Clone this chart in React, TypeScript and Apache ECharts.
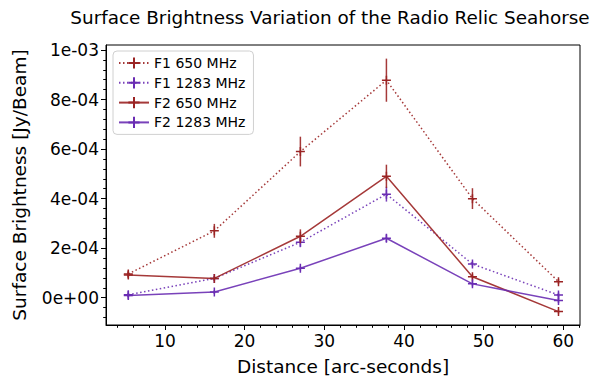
import React, { useEffect, useRef } from "react";
import * as echarts from "echarts";

const DISTANCE = [5.4, 16.2, 27.0, 37.8, 48.6, 59.4];

const F1_650 = [9.6e-5, 2.7e-4, 5.9e-4, 8.78e-4, 4.0e-4, 6.5e-5];
const F1_650_ERR = [1.0e-5, 2.8e-5, 6.0e-5, 8.7e-5, 4.2e-5, 1.0e-5];
const F1_1283 = [1.2e-5, 7.8e-5, 2.24e-4, 4.18e-4, 1.36e-4, 1.1e-5];
const F1_1283_ERR = [8e-6, 8e-6, 2e-5, 3e-5, 1e-5, 1e-5];
const F2_650 = [9.2e-5, 7.8e-5, 2.48e-4, 4.9e-4, 8.5e-5, -5.6e-5];
const F2_650_ERR = [1e-5, 1e-5, 2.8e-5, 4.7e-5, 1e-5, 8e-6];
const F2_1283 = [9e-6, 2.3e-5, 1.19e-4, 2.4e-4, 5.6e-5, -1.1e-5];
const F2_1283_ERR = [7e-6, 8e-6, 1e-5, 1.5e-5, 1e-5, 1e-5];

const X_TICKS = [10, 20, 30, 40, 50, 60];
const X_MINOR = [4, 6, 8, 12, 14, 16, 18, 22, 24, 26, 28, 32, 34, 36, 38, 42, 44, 46, 48, 52, 54, 56, 58, 62];
const Y_TICKS = [0, 2e-4, 4e-4, 6e-4, 8e-4, 1e-3];
const Y_TICK_LABELS = ["0e+00", "2e-04", "4e-04", "6e-04", "8e-04", "1e-03"];
const Y_MINOR = [-8e-5, -4e-5, 4e-5, 8e-5, 1.2e-4, 1.6e-4, 2.4e-4, 2.8e-4, 3.2e-4, 3.6e-4, 4.4e-4, 4.8e-4, 5.2e-4, 5.6e-4, 6.4e-4, 6.8e-4, 7.2e-4, 7.6e-4, 8.4e-4, 8.8e-4, 9.2e-4, 9.6e-4];

const RED = "#9b2424";
const PURPLE = "#6a2db3";
const FONT = "DejaVu Sans";
const PLUS = "path://M0,5L10,5M5,0L5,10";

const SERIES = [
  { name: "F1 650 MHz", y: F1_650, err: F1_650_ERR, color: RED, dotted: true },
  { name: "F1 1283 MHz", y: F1_1283, err: F1_1283_ERR, color: PURPLE, dotted: true },
  { name: "F2 650 MHz", y: F2_650, err: F2_650_ERR, color: RED, dotted: false },
  { name: "F2 1283 MHz", y: F2_1283, err: F2_1283_ERR, color: PURPLE, dotted: false },
];

export default function App() {
  const ref = useRef<HTMLDivElement>(null);
  useEffect(() => {
    if (!ref.current) return;
    const chart = echarts.init(ref.current, null, { renderer: "svg" });
    const series: any[] = [];
    SERIES.forEach((s, i) => {
      series.push({
        name: s.name,
        type: "line",
        data: DISTANCE.map((x, k) => [x, s.y[k]]),
        symbol: PLUS,
        symbolSize: 9,
        showSymbol: true,
        z: 10 + i * 2,
        itemStyle: { color: s.color, borderColor: s.color, borderWidth: 1.5 },
        lineStyle: {
          color: s.color,
          width: 1.5,
          type: s.dotted ? [1.5, 2.5] : "solid",
          opacity: 0.9,
        },
      });
      series.push({
        name: s.name + " err",
        type: "custom",
        z: 11 + i * 2,
        data: DISTANCE.map((x, k) => [x, s.y[k], s.err[k]]),
        encode: { x: 0, y: 1 },
        renderItem: (params: any, api: any) => {
          const x = api.value(0);
          const y = api.value(1);
          const e = api.value(2);
          const p1 = api.coord([x, y - e]);
          const p2 = api.coord([x, y + e]);
          return {
            type: "line",
            shape: { x1: p1[0], y1: p1[1], x2: p2[0], y2: p2[1] },
            style: { stroke: s.color, lineWidth: 1.5, opacity: 0.9 },
          };
        },
      });
    });

    chart.setOption({
      animation: false,
      backgroundColor: "#ffffff",
      textStyle: { fontFamily: FONT },
      grid: {
        left: 106,
        top: 45,
        width: 474,
        height: 280,
        show: true,
        borderColor: "#000",
        borderWidth: 1,
        backgroundColor: "transparent",
      },
      graphic: [
        {
          type: "text",
          x: 330,
          y: 17,
          style: {
            text: "Surface Brightness Variation of the Radio Relic Seahorse",
            font: `18.4px '${FONT}'`,
            fill: "#000",
            textAlign: "center",
            textVerticalAlign: "middle",
          },
        },
      ],
      legend: {
        data: SERIES.map((s) => s.name),
        orient: "vertical",
        left: 113,
        top: 51,
        padding: [5, 8, 5, 5],
        itemGap: 5.8,
        itemWidth: 30,
        itemHeight: 14,
        borderColor: "#d0d0d0",
        borderWidth: 1,
        borderRadius: 4,
        backgroundColor: "rgba(255,255,255,0.8)",
        textStyle: { fontFamily: FONT, fontSize: 14, color: "#000" },
      },
      xAxis: [
        {
          type: "value",
          min: 2.6,
          max: 62.1,
          name: "Distance [arc-seconds]",
          nameLocation: "middle",
          nameGap: 32,
          nameTextStyle: { fontFamily: FONT, fontSize: 18.5, color: "#000" },
          axisLine: { show: true, onZero: false, lineStyle: { color: "#000", width: 1 } },
          axisTick: { show: true, length: 5, customValues: X_TICKS, lineStyle: { color: "#000" } },
          axisLabel: {
            customValues: X_TICKS,
            fontFamily: FONT,
            fontSize: 17,
            color: "#000",
            margin: 7,
          },
          splitLine: { show: false },
        },
        {
          type: "value",
          position: "bottom",
          min: 2.6,
          max: 62.1,
          axisLine: { show: false, onZero: false },
          axisTick: { show: true, length: 2.8, customValues: X_MINOR, lineStyle: { color: "#000" } },
          axisLabel: { show: false },
          splitLine: { show: false },
        },
      ],
      yAxis: [
        {
          type: "value",
          min: -1.1e-4,
          max: 1.02e-3,
          name: "Surface Brightness [Jy/Beam]",
          nameLocation: "middle",
          nameGap: 77,
          nameTextStyle: { fontFamily: FONT, fontSize: 18.5, color: "#000" },
          axisLine: { show: true, onZero: false, lineStyle: { color: "#000", width: 1 } },
          axisTick: { show: true, length: 5, customValues: Y_TICKS, lineStyle: { color: "#000" } },
          axisLabel: {
            customValues: Y_TICKS,
            fontFamily: FONT,
            fontSize: 17,
            color: "#000",
            margin: 7,
            formatter: (v: number) => {
              const idx = Y_TICKS.findIndex((t) => Math.abs(t - v) < 1e-9);
              return idx >= 0 ? Y_TICK_LABELS[idx] : "";
            },
          },
          splitLine: { show: false },
        },
        {
          type: "value",
          position: "left",
          min: -1.1e-4,
          max: 1.02e-3,
          axisLine: { show: false, onZero: false },
          axisTick: { show: true, length: 2.8, customValues: Y_MINOR, lineStyle: { color: "#000" } },
          axisLabel: { show: false },
          splitLine: { show: false },
        },
      ],
      series,
    });
    return () => chart.dispose();
  }, []);
  return (
    <div
      ref={ref}
      style={{ position: "fixed", left: 0, top: 0, width: 600, height: 381, background: "#fff" }}
    />
  );
}
